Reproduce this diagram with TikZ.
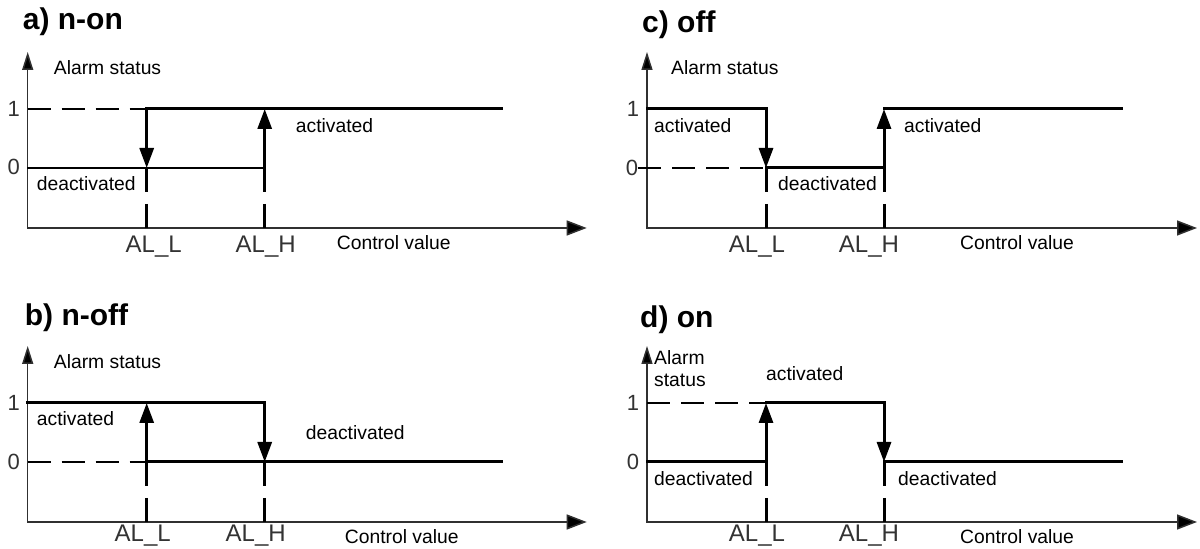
\documentclass[tikz,border=0pt]{standalone}
\usepackage{fontspec}
\setmainfont{Liberation Sans}
\usetikzlibrary{arrows.meta}
\definecolor{axgray}{HTML}{303030}
\definecolor{numgray}{HTML}{333333}
\tikzset{
  axisline/.style={draw=axgray, line width=1.5pt,
    {Triangle[length=18pt,width=11pt,fill=black]}-{Triangle[length=20pt,width=15pt,fill=black]}},
  lvl/.style={draw=black, line width=3pt, line cap=rect},
  lvlthin/.style={draw=black, line width=2pt, line cap=rect},
  hdsh/.style={draw=black, line width=2.4pt, dash pattern=on 23pt off 11pt},
  vdsh/.style={draw=black, line width=3pt, dash pattern=on 24pt off 12pt},
  steparrow/.style={draw=black, line width=3pt, -{Triangle[length=20pt,width=14pt]}},
  lbl/.style={font=\fontsize{19.3}{21}\selectfont, inner sep=0pt, anchor=west},
  ttl/.style={font=\fontsize{30}{32}\selectfont\bfseries, inner sep=0pt, anchor=west},
  num/.style={font=\fontsize{22}{24}\selectfont, text=numgray, inner sep=0pt},
  allbl/.style={font=\fontsize{24}{26}\selectfont, text=numgray, inner sep=0pt},
}
\newcommand\panelcoords[2]{%
  \coordinate (#1O) at (0,0);
  \coordinate (#1Y) at (0,176);
  \coordinate (#1X) at (#2,0);
  \coordinate (#1S1) at (0,119);
  \coordinate (#1S0) at (0,60);
  \coordinate (#1L1) at (119,119);
  \coordinate (#1L0) at (119,60);
  \coordinate (#1Lb) at (119,0);
  \coordinate (#1H1) at (237,119);
  \coordinate (#1H0) at (237,60);
  \coordinate (#1Hb) at (237,0);
  \coordinate (#1E1) at (474,119);
  \coordinate (#1E0) at (474,60);
  \draw[axisline] (#1Y) -- (#1O) -- (#1X);
  \draw[vdsh] (#1L0) -- (#1Lb);
  \draw[vdsh] (#1H0) -- (#1Hb);
}
\begin{document}
\begin{tikzpicture}[x=1pt,y=1pt]
\useasboundingbox[fill=white] (0,0) rectangle (1200,549);

% ---------- a) n-on ----------
\begin{scope}[shift={(27.7,321)}]
  \panelcoords{a}{559}
  \draw[hdsh] (aS1) -- (aL1);
  \draw[lvl] (aL1) -- (aE1);
  \draw[lvlthin] (aS0) -- (aH0);
  \draw[steparrow] (aL1) -- (aL0);
  \draw[steparrow] (aH0) -- (aH1);
  \node[ttl] (aT) at (-5,206) {a) n-on};
  \node[lbl] (aA) at (26,160) {Alarm status};
  \node[num] (a1) at (-14,119) {1};
  \node[num] (a0) at (-14,61) {0};
  \node[lbl] (aact) at (268,102) {activated};
  \node[lbl] (adeact) at (9,44) {deactivated};
  \node[allbl] (aALL) at (126,-19) {AL\_L};
  \node[allbl] (aALH) at (238,-19) {AL\_H};
  \node[lbl] (aCV) at (309,-15) {Control value};
\end{scope}

% ---------- b) n-off ----------
\begin{scope}[shift={(27.7,27)}]
  \panelcoords{b}{559}
  \draw[hdsh] (bS0) -- (bL0);
  \draw[lvl] (bL0) -- (bE0);
  \draw[lvl] (bS1) -- (bH1);
  \draw[steparrow] (bL0) -- (bL1);
  \draw[steparrow] (bH1) -- (bH0);
  \node[ttl] (bT) at (-3,204) {b) n-off};
  \node[lbl] (bA) at (26,160) {Alarm status};
  \node[num] (b1) at (-14,119) {1};
  \node[num] (b0) at (-14,60) {0};
  \node[lbl] (bact) at (9,103) {activated};
  \node[lbl] (bdeact) at (278,89) {deactivated};
  \node[allbl] (bALL) at (115,-14) {AL\_L};
  \node[allbl] (bALH) at (228,-14) {AL\_H};
  \node[lbl] (bCV) at (317,-15) {Control value};
\end{scope}

% ---------- c) off ----------
\begin{scope}[shift={(647,321)}]
  \panelcoords{c}{550}
  \coordinate (cTk) at (-9,60);
  \draw[lvl] (cS1) -- (cL1);
  \draw[hdsh] (cTk) -- (cL0);
  \draw[lvl] (cL0) -- (cH0);
  \draw[lvl] (cH1) -- (cE1);
  \draw[steparrow] (cL1) -- (cL0);
  \draw[steparrow] (cH0) -- (cH1);
  \node[ttl] (cT) at (-5,203) {c) off};
  \node[lbl] (cA) at (24,160) {Alarm status};
  \node[num] (c1) at (-14,119) {1};
  \node[num] (c0) at (-15,60) {0};
  \node[lbl] (cact1) at (7,102) {activated};
  \node[lbl] (cact2) at (257,102) {activated};
  \node[lbl] (cdeact) at (131,44) {deactivated};
  \node[allbl] (cALL) at (110,-19) {AL\_L};
  \node[allbl] (cALH) at (222,-19) {AL\_H};
  \node[lbl] (cCV) at (313,-15) {Control value};
\end{scope}

% ---------- d) on ----------
\begin{scope}[shift={(647,27)}]
  \panelcoords{d}{550}
  \draw[lvl] (dS0) -- (dL0);
  \draw[hdsh] (dS1) -- (dL1);
  \draw[lvl] (dL1) -- (dH1);
  \draw[lvl] (dH0) -- (dE0);
  \draw[steparrow] (dL0) -- (dL1);
  \draw[steparrow] (dH1) -- (dH0);
  \node[ttl] (dT) at (-7,202) {d) on};
  \node[lbl] (dA1) at (7,164) {Alarm};
  \node[lbl] (dA2) at (7,142) {status};
  \node[num] (d1) at (-14,119) {1};
  \node[num] (d0) at (-14,60) {0};
  \node[lbl] (dact) at (119,148) {activated};
  \node[lbl] (ddeact1) at (7,43) {deactivated};
  \node[lbl] (ddeact2) at (251,43) {deactivated};
  \node[allbl] (dALL) at (110,-14) {AL\_L};
  \node[allbl] (dALH) at (222,-14) {AL\_H};
  \node[lbl] (dCV) at (313,-15) {Control value};
\end{scope}
\end{tikzpicture}
\end{document}
